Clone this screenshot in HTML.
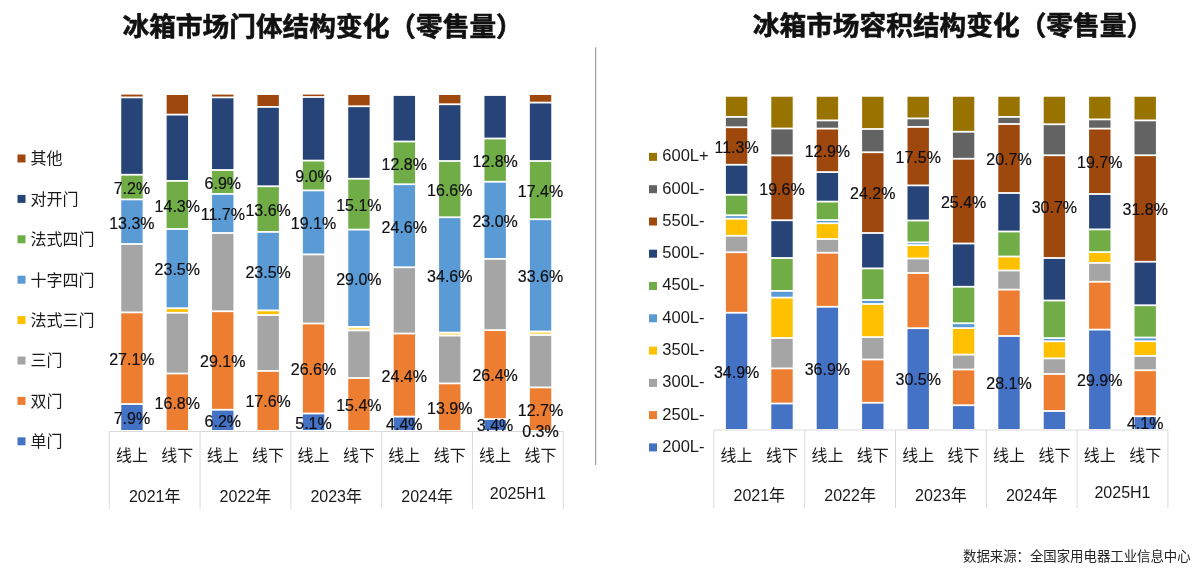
<!DOCTYPE html>
<html lang="zh-CN"><head><meta charset="utf-8"><title>冰箱市场结构变化</title>
<style>
html,body{margin:0;padding:0;background:#fff;}
body{width:1200px;height:572px;overflow:hidden;font-family:"Liberation Sans","Noto Sans CJK SC",sans-serif;}
svg{display:block;}
.lbl text{font-size:16px;fill:#101014;text-anchor:middle;stroke:#101014;stroke-width:0.2;}
.cat text{font-size:16px;fill:#1a1a1a;text-anchor:middle;}
.leg text{fill:#1a1a1a;}
.axis path{stroke:#d9d9d9;stroke-width:1;fill:none;}
.title{font-size:26.7px;font-weight:bold;fill:#111;stroke:#111;stroke-width:0.6;}
.src{font-size:13.4px;fill:#222;}
</style></head><body>
<svg width="1200" height="572" viewBox="0 0 1200 572" font-family="'Liberation Sans','Noto Sans CJK SC',sans-serif">
<rect width="1200" height="572" fill="#fff"/>
<text class="title" x="122.5" y="36.2">冰箱市场门体结构变化（零售量）</text>
<text class="title" x="752.8" y="34.7">冰箱市场容积结构变化（零售量）</text>
<path d="M595.7 47.3V465" stroke="#858d94" stroke-width="1" fill="none"/>
<g class="axis">
<path d="M109.25 431.5H563.25" />
<path d="M109.25 431.5V509"/>
<path d="M200.05 431.5V509"/>
<path d="M290.85 431.5V509"/>
<path d="M381.65 431.5V509"/>
<path d="M472.45 431.5V509"/>
<path d="M563.25 431.5V509"/>
<path d="M713.90 430H1167.90" />
<path d="M713.90 430V508"/>
<path d="M804.70 430V508"/>
<path d="M895.50 430V508"/>
<path d="M986.30 430V508"/>
<path d="M1077.10 430V508"/>
<path d="M1167.90 430V508"/>
</g>
<g class="bars">
<rect x="121.25" y="94.60" width="21.4" height="1.90" fill="#9E480E"/>
<rect x="121.25" y="98.30" width="21.4" height="75.55" fill="#264478"/>
<rect x="121.25" y="175.65" width="21.4" height="22.85" fill="#70AD47"/>
<rect x="121.25" y="200.30" width="21.4" height="42.80" fill="#5B9BD5"/>
<rect x="121.25" y="244.90" width="21.4" height="66.60" fill="#A5A5A5"/>
<rect x="121.25" y="313.30" width="21.4" height="89.80" fill="#ED7D31"/>
<rect x="121.25" y="404.90" width="21.4" height="25.10" fill="#4472C4"/>
<rect x="166.65" y="95.00" width="21.4" height="18.70" fill="#9E480E"/>
<rect x="166.65" y="115.50" width="21.4" height="64.50" fill="#264478"/>
<rect x="166.65" y="181.80" width="21.4" height="46.30" fill="#70AD47"/>
<rect x="166.65" y="229.90" width="21.4" height="77.45" fill="#5B9BD5"/>
<rect x="166.65" y="309.15" width="21.4" height="2.70" fill="#FFC000"/>
<rect x="166.65" y="313.65" width="21.4" height="58.95" fill="#A5A5A5"/>
<rect x="166.65" y="374.40" width="21.4" height="55.60" fill="#ED7D31"/>
<rect x="212.05" y="94.60" width="21.4" height="1.90" fill="#9E480E"/>
<rect x="212.05" y="98.30" width="21.4" height="70.80" fill="#264478"/>
<rect x="212.05" y="170.90" width="21.4" height="22.10" fill="#70AD47"/>
<rect x="212.05" y="194.80" width="21.4" height="37.30" fill="#5B9BD5"/>
<rect x="212.05" y="233.90" width="21.4" height="76.45" fill="#A5A5A5"/>
<rect x="212.05" y="312.15" width="21.4" height="96.70" fill="#ED7D31"/>
<rect x="212.05" y="410.65" width="21.4" height="19.35" fill="#4472C4"/>
<rect x="257.45" y="95.00" width="21.4" height="11.00" fill="#9E480E"/>
<rect x="257.45" y="107.80" width="21.4" height="77.55" fill="#264478"/>
<rect x="257.45" y="187.15" width="21.4" height="43.85" fill="#70AD47"/>
<rect x="257.45" y="232.80" width="21.4" height="76.70" fill="#5B9BD5"/>
<rect x="257.45" y="311.30" width="21.4" height="2.80" fill="#FFC000"/>
<rect x="257.45" y="315.90" width="21.4" height="54.10" fill="#A5A5A5"/>
<rect x="257.45" y="371.80" width="21.4" height="58.20" fill="#ED7D31"/>
<rect x="302.85" y="94.60" width="21.4" height="1.50" fill="#9E480E"/>
<rect x="302.85" y="97.90" width="21.4" height="61.80" fill="#264478"/>
<rect x="302.85" y="161.50" width="21.4" height="28.00" fill="#70AD47"/>
<rect x="302.85" y="191.30" width="21.4" height="62.20" fill="#5B9BD5"/>
<rect x="302.85" y="255.30" width="21.4" height="67.30" fill="#A5A5A5"/>
<rect x="302.85" y="324.40" width="21.4" height="88.20" fill="#ED7D31"/>
<rect x="302.85" y="414.40" width="21.4" height="15.60" fill="#4472C4"/>
<rect x="348.25" y="95.00" width="21.4" height="10.35" fill="#9E480E"/>
<rect x="348.25" y="107.15" width="21.4" height="70.70" fill="#264478"/>
<rect x="348.25" y="179.65" width="21.4" height="49.05" fill="#70AD47"/>
<rect x="348.25" y="230.50" width="21.4" height="95.50" fill="#5B9BD5"/>
<rect x="348.25" y="327.80" width="21.4" height="1.70" fill="#FFC000" fill-opacity="0.55"/>
<rect x="348.25" y="331.30" width="21.4" height="45.80" fill="#A5A5A5"/>
<rect x="348.25" y="378.90" width="21.4" height="51.10" fill="#ED7D31"/>
<rect x="393.65" y="95.90" width="21.4" height="44.70" fill="#264478"/>
<rect x="393.65" y="142.40" width="21.4" height="40.95" fill="#70AD47"/>
<rect x="393.65" y="185.15" width="21.4" height="81.20" fill="#5B9BD5"/>
<rect x="393.65" y="268.15" width="21.4" height="64.45" fill="#A5A5A5"/>
<rect x="393.65" y="334.40" width="21.4" height="81.30" fill="#ED7D31"/>
<rect x="393.65" y="417.50" width="21.4" height="12.50" fill="#4472C4"/>
<rect x="439.05" y="95.00" width="21.4" height="8.35" fill="#9E480E"/>
<rect x="439.05" y="105.15" width="21.4" height="54.95" fill="#264478"/>
<rect x="439.05" y="161.90" width="21.4" height="54.45" fill="#70AD47"/>
<rect x="439.05" y="218.15" width="21.4" height="113.55" fill="#5B9BD5"/>
<rect x="439.05" y="333.50" width="21.4" height="1.20" fill="#FFC000" fill-opacity="0.55"/>
<rect x="439.05" y="336.50" width="21.4" height="46.00" fill="#A5A5A5"/>
<rect x="439.05" y="384.30" width="21.4" height="45.70" fill="#ED7D31"/>
<rect x="484.45" y="95.90" width="21.4" height="41.70" fill="#264478"/>
<rect x="484.45" y="139.40" width="21.4" height="41.45" fill="#70AD47"/>
<rect x="484.45" y="182.65" width="21.4" height="75.35" fill="#5B9BD5"/>
<rect x="484.45" y="259.80" width="21.4" height="69.40" fill="#A5A5A5"/>
<rect x="484.45" y="331.00" width="21.4" height="87.20" fill="#ED7D31"/>
<rect x="484.45" y="420.00" width="21.4" height="10.00" fill="#4472C4"/>
<rect x="529.85" y="95.00" width="21.4" height="6.70" fill="#9E480E"/>
<rect x="529.85" y="103.50" width="21.4" height="56.60" fill="#264478"/>
<rect x="529.85" y="161.90" width="21.4" height="56.45" fill="#70AD47"/>
<rect x="529.85" y="220.15" width="21.4" height="110.45" fill="#5B9BD5"/>
<rect x="529.85" y="332.40" width="21.4" height="1.70" fill="#FFC000" fill-opacity="0.55"/>
<rect x="529.85" y="335.90" width="21.4" height="50.60" fill="#A5A5A5"/>
<rect x="529.85" y="388.30" width="21.4" height="41.70" fill="#ED7D31"/>
<rect x="725.90" y="96.75" width="21.4" height="19.25" fill="#997300"/>
<rect x="725.90" y="117.80" width="21.4" height="8.55" fill="#636363"/>
<rect x="725.90" y="128.15" width="21.4" height="35.70" fill="#9E480E"/>
<rect x="725.90" y="165.65" width="21.4" height="28.20" fill="#264478"/>
<rect x="725.90" y="195.65" width="21.4" height="18.70" fill="#70AD47"/>
<rect x="725.90" y="216.15" width="21.4" height="1.70" fill="#5B9BD5"/>
<rect x="725.90" y="219.65" width="21.4" height="15.20" fill="#FFC000"/>
<rect x="725.90" y="236.65" width="21.4" height="14.70" fill="#A5A5A5"/>
<rect x="725.90" y="253.15" width="21.4" height="58.70" fill="#ED7D31"/>
<rect x="725.90" y="313.65" width="21.4" height="115.35" fill="#4472C4"/>
<rect x="771.30" y="96.75" width="21.4" height="30.85" fill="#997300"/>
<rect x="771.30" y="129.40" width="21.4" height="25.10" fill="#636363"/>
<rect x="771.30" y="156.30" width="21.4" height="63.05" fill="#9E480E"/>
<rect x="771.30" y="221.15" width="21.4" height="35.95" fill="#264478"/>
<rect x="771.30" y="258.90" width="21.4" height="31.10" fill="#70AD47"/>
<rect x="771.30" y="291.80" width="21.4" height="4.90" fill="#5B9BD5"/>
<rect x="771.30" y="298.50" width="21.4" height="38.60" fill="#FFC000"/>
<rect x="771.30" y="338.90" width="21.4" height="28.60" fill="#A5A5A5"/>
<rect x="771.30" y="369.30" width="21.4" height="33.30" fill="#ED7D31"/>
<rect x="771.30" y="404.40" width="21.4" height="24.60" fill="#4472C4"/>
<rect x="816.70" y="96.75" width="21.4" height="22.75" fill="#997300"/>
<rect x="816.70" y="121.30" width="21.4" height="6.40" fill="#636363"/>
<rect x="816.70" y="129.50" width="21.4" height="41.70" fill="#9E480E"/>
<rect x="816.70" y="173.00" width="21.4" height="27.70" fill="#264478"/>
<rect x="816.70" y="202.50" width="21.4" height="16.70" fill="#70AD47"/>
<rect x="816.70" y="221.00" width="21.4" height="1.35" fill="#5B9BD5"/>
<rect x="816.70" y="224.15" width="21.4" height="13.95" fill="#FFC000"/>
<rect x="816.70" y="239.90" width="21.4" height="11.95" fill="#A5A5A5"/>
<rect x="816.70" y="253.65" width="21.4" height="52.20" fill="#ED7D31"/>
<rect x="816.70" y="307.65" width="21.4" height="121.35" fill="#4472C4"/>
<rect x="862.10" y="96.75" width="21.4" height="31.35" fill="#997300"/>
<rect x="862.10" y="129.90" width="21.4" height="21.45" fill="#636363"/>
<rect x="862.10" y="153.15" width="21.4" height="78.95" fill="#9E480E"/>
<rect x="862.10" y="233.90" width="21.4" height="33.60" fill="#264478"/>
<rect x="862.10" y="269.30" width="21.4" height="29.80" fill="#70AD47"/>
<rect x="862.10" y="300.90" width="21.4" height="2.20" fill="#5B9BD5"/>
<rect x="862.10" y="304.90" width="21.4" height="31.30" fill="#FFC000"/>
<rect x="862.10" y="338.00" width="21.4" height="20.60" fill="#A5A5A5"/>
<rect x="862.10" y="360.40" width="21.4" height="41.45" fill="#ED7D31"/>
<rect x="862.10" y="403.65" width="21.4" height="25.35" fill="#4472C4"/>
<rect x="907.50" y="96.75" width="21.4" height="20.75" fill="#997300"/>
<rect x="907.50" y="119.30" width="21.4" height="6.70" fill="#636363"/>
<rect x="907.50" y="127.80" width="21.4" height="56.70" fill="#9E480E"/>
<rect x="907.50" y="186.30" width="21.4" height="33.30" fill="#264478"/>
<rect x="907.50" y="221.40" width="21.4" height="20.10" fill="#70AD47"/>
<rect x="907.50" y="243.30" width="21.4" height="0.90" fill="#5B9BD5"/>
<rect x="907.50" y="246.00" width="21.4" height="11.60" fill="#FFC000"/>
<rect x="907.50" y="259.40" width="21.4" height="12.70" fill="#A5A5A5"/>
<rect x="907.50" y="273.90" width="21.4" height="53.40" fill="#ED7D31"/>
<rect x="907.50" y="329.10" width="21.4" height="99.90" fill="#4472C4"/>
<rect x="952.90" y="96.75" width="21.4" height="34.10" fill="#997300"/>
<rect x="952.90" y="132.65" width="21.4" height="25.20" fill="#636363"/>
<rect x="952.90" y="159.65" width="21.4" height="82.95" fill="#9E480E"/>
<rect x="952.90" y="244.40" width="21.4" height="41.45" fill="#264478"/>
<rect x="952.90" y="287.65" width="21.4" height="34.70" fill="#70AD47"/>
<rect x="952.90" y="324.15" width="21.4" height="3.05" fill="#5B9BD5"/>
<rect x="952.90" y="329.00" width="21.4" height="24.70" fill="#FFC000"/>
<rect x="952.90" y="355.50" width="21.4" height="13.10" fill="#A5A5A5"/>
<rect x="952.90" y="370.40" width="21.4" height="33.95" fill="#ED7D31"/>
<rect x="952.90" y="406.15" width="21.4" height="22.85" fill="#4472C4"/>
<rect x="998.30" y="96.75" width="21.4" height="19.25" fill="#997300"/>
<rect x="998.30" y="117.80" width="21.4" height="5.30" fill="#636363"/>
<rect x="998.30" y="124.90" width="21.4" height="67.20" fill="#9E480E"/>
<rect x="998.30" y="193.90" width="21.4" height="36.70" fill="#264478"/>
<rect x="998.30" y="232.40" width="21.4" height="23.20" fill="#70AD47"/>
<rect x="998.30" y="257.40" width="21.4" height="12.20" fill="#FFC000"/>
<rect x="998.30" y="271.40" width="21.4" height="17.30" fill="#A5A5A5"/>
<rect x="998.30" y="290.50" width="21.4" height="44.60" fill="#ED7D31"/>
<rect x="998.30" y="336.90" width="21.4" height="92.10" fill="#4472C4"/>
<rect x="1043.70" y="96.75" width="21.4" height="26.60" fill="#997300"/>
<rect x="1043.70" y="125.15" width="21.4" height="29.20" fill="#636363"/>
<rect x="1043.70" y="156.15" width="21.4" height="100.95" fill="#9E480E"/>
<rect x="1043.70" y="258.90" width="21.4" height="40.70" fill="#264478"/>
<rect x="1043.70" y="301.40" width="21.4" height="35.80" fill="#70AD47"/>
<rect x="1043.70" y="339.00" width="21.4" height="1.40" fill="#5B9BD5"/>
<rect x="1043.70" y="342.20" width="21.4" height="15.30" fill="#FFC000"/>
<rect x="1043.70" y="359.30" width="21.4" height="13.80" fill="#A5A5A5"/>
<rect x="1043.70" y="374.90" width="21.4" height="35.20" fill="#ED7D31"/>
<rect x="1043.70" y="411.90" width="21.4" height="17.10" fill="#4472C4"/>
<rect x="1089.10" y="96.75" width="21.4" height="21.75" fill="#997300"/>
<rect x="1089.10" y="120.30" width="21.4" height="7.40" fill="#636363"/>
<rect x="1089.10" y="129.50" width="21.4" height="63.60" fill="#9E480E"/>
<rect x="1089.10" y="194.90" width="21.4" height="33.60" fill="#264478"/>
<rect x="1089.10" y="230.30" width="21.4" height="20.90" fill="#70AD47"/>
<rect x="1089.10" y="253.00" width="21.4" height="9.00" fill="#FFC000"/>
<rect x="1089.10" y="263.80" width="21.4" height="17.05" fill="#A5A5A5"/>
<rect x="1089.10" y="282.65" width="21.4" height="46.05" fill="#ED7D31"/>
<rect x="1089.10" y="330.50" width="21.4" height="98.50" fill="#4472C4"/>
<rect x="1134.50" y="96.75" width="21.4" height="22.75" fill="#997300"/>
<rect x="1134.50" y="121.30" width="21.4" height="33.05" fill="#636363"/>
<rect x="1134.50" y="156.15" width="21.4" height="104.70" fill="#9E480E"/>
<rect x="1134.50" y="262.65" width="21.4" height="41.70" fill="#264478"/>
<rect x="1134.50" y="306.15" width="21.4" height="30.45" fill="#70AD47"/>
<rect x="1134.50" y="338.40" width="21.4" height="1.95" fill="#5B9BD5"/>
<rect x="1134.50" y="342.15" width="21.4" height="12.85" fill="#FFC000"/>
<rect x="1134.50" y="356.80" width="21.4" height="12.55" fill="#A5A5A5"/>
<rect x="1134.50" y="371.15" width="21.4" height="44.20" fill="#ED7D31"/>
<rect x="1134.50" y="417.15" width="21.4" height="11.85" fill="#4472C4"/>
</g>
<g class="leg" stroke="none">
<rect x="17.5" y="154.5" width="8" height="8" fill="#9E480E"/>
<rect x="17.5" y="194.9" width="8" height="8" fill="#264478"/>
<rect x="17.5" y="235.3" width="8" height="8" fill="#70AD47"/>
<rect x="17.5" y="275.7" width="8" height="8" fill="#5B9BD5"/>
<rect x="17.5" y="316.1" width="8" height="8" fill="#FFC000"/>
<rect x="17.5" y="356.5" width="8" height="8" fill="#A5A5A5"/>
<rect x="17.5" y="396.9" width="8" height="8" fill="#ED7D31"/>
<rect x="17.5" y="437.3" width="8" height="8" fill="#4472C4"/>
<rect x="649" y="152.9" width="8" height="8" fill="#997300"/>
<rect x="649" y="185.2" width="8" height="8" fill="#636363"/>
<rect x="649" y="217.5" width="8" height="8" fill="#9E480E"/>
<rect x="649" y="249.7" width="8" height="8" fill="#264478"/>
<rect x="649" y="282.0" width="8" height="8" fill="#70AD47"/>
<rect x="649" y="314.3" width="8" height="8" fill="#5B9BD5"/>
<rect x="649" y="346.6" width="8" height="8" fill="#FFC000"/>
<rect x="649" y="378.9" width="8" height="8" fill="#A5A5A5"/>
<rect x="649" y="411.1" width="8" height="8" fill="#ED7D31"/>
<rect x="649" y="443.4" width="8" height="8" fill="#4472C4"/>
<text x="30.5" y="164.3" font-size="16">其他</text>
<text x="30.5" y="204.7" font-size="16">对开门</text>
<text x="30.5" y="245.1" font-size="16">法式四门</text>
<text x="30.5" y="285.5" font-size="16">十字四门</text>
<text x="30.5" y="325.9" font-size="16">法式三门</text>
<text x="30.5" y="366.3" font-size="16">三门</text>
<text x="30.5" y="406.7" font-size="16">双门</text>
<text x="30.5" y="447.1" font-size="16">单门</text>
<text x="662.3" y="161.3" font-size="16.5">600L+</text>
<text x="662.3" y="193.6" font-size="16.5">600L-</text>
<text x="662.3" y="225.9" font-size="16.5">550L-</text>
<text x="662.3" y="258.1" font-size="16.5">500L-</text>
<text x="662.3" y="290.4" font-size="16.5">450L-</text>
<text x="662.3" y="322.7" font-size="16.5">400L-</text>
<text x="662.3" y="355.0" font-size="16.5">350L-</text>
<text x="662.3" y="387.3" font-size="16.5">300L-</text>
<text x="662.3" y="419.5" font-size="16.5">250L-</text>
<text x="662.3" y="451.8" font-size="16.5">200L-</text>
</g>
<g class="cat">
<text x="131.9" y="461.3">线上</text>
<text x="177.3" y="461.3">线下</text>
<text x="222.8" y="461.3">线上</text>
<text x="268.1" y="461.3">线下</text>
<text x="313.5" y="461.3">线上</text>
<text x="358.9" y="461.3">线下</text>
<text x="404.3" y="461.3">线上</text>
<text x="449.8" y="461.3">线下</text>
<text x="495.1" y="461.3">线上</text>
<text x="540.5" y="461.3">线下</text>
<text x="154.7" y="501.6" font-size="16.8">2021年</text>
<text x="245.4" y="501.6" font-size="16.8">2022年</text>
<text x="336.2" y="501.6" font-size="16.8">2023年</text>
<text x="427.1" y="501.6" font-size="16.8">2024年</text>
<text x="517.8" y="498.90000000000003" font-size="16.8">2025H1</text>
<text x="736.6" y="460.8">线上</text>
<text x="782.0" y="460.8">线下</text>
<text x="827.4" y="460.8">线上</text>
<text x="872.8" y="460.8">线下</text>
<text x="918.2" y="460.8">线上</text>
<text x="963.6" y="460.8">线下</text>
<text x="1009.0" y="460.8">线上</text>
<text x="1054.4" y="460.8">线下</text>
<text x="1099.8" y="460.8">线上</text>
<text x="1145.2" y="460.8">线下</text>
<text x="759.3" y="501" font-size="16.8">2021年</text>
<text x="850.1" y="501" font-size="16.8">2022年</text>
<text x="940.9" y="501" font-size="16.8">2023年</text>
<text x="1031.7" y="501" font-size="16.8">2024年</text>
<text x="1122.5" y="498.3" font-size="16.8">2025H1</text>
</g>
<g class="lbl">
<text x="131.9" y="193.9">7.2%</text>
<text x="131.9" y="228.5">13.3%</text>
<text x="131.9" y="365.0">27.1%</text>
<text x="131.9" y="423.8">7.9%</text>
<text x="177.3" y="211.8">14.3%</text>
<text x="177.3" y="275.4">23.5%</text>
<text x="177.3" y="408.6">16.8%</text>
<text x="222.8" y="188.8">6.9%</text>
<text x="222.8" y="220.2">11.7%</text>
<text x="222.8" y="367.3">29.1%</text>
<text x="222.8" y="426.7">6.2%</text>
<text x="268.1" y="215.9">13.6%</text>
<text x="268.1" y="277.9">23.5%</text>
<text x="268.1" y="407.2">17.6%</text>
<text x="313.5" y="182.3">9.0%</text>
<text x="313.5" y="229.2">19.1%</text>
<text x="313.5" y="375.3">26.6%</text>
<text x="313.5" y="428.6">5.1%</text>
<text x="358.9" y="211.0">15.1%</text>
<text x="358.9" y="285.1">29.0%</text>
<text x="358.9" y="410.8">15.4%</text>
<text x="404.3" y="169.7">12.8%</text>
<text x="404.3" y="232.6">24.6%</text>
<text x="404.3" y="381.9">24.4%</text>
<text x="404.3" y="430.1">4.4%</text>
<text x="449.8" y="195.9">16.6%</text>
<text x="449.8" y="281.7">34.6%</text>
<text x="449.8" y="413.5">13.9%</text>
<text x="495.1" y="166.9">12.8%</text>
<text x="495.1" y="227.1">23.0%</text>
<text x="495.1" y="381.4">26.4%</text>
<text x="495.1" y="431.4">3.4%</text>
<text x="540.5" y="196.9">17.4%</text>
<text x="540.5" y="282.2">33.6%</text>
<text x="540.5" y="415.5">12.7%</text>
<text x="540.5" y="436.8">0.3%</text>
<text x="736.6" y="152.8">11.3%</text>
<text x="736.6" y="377.7">34.9%</text>
<text x="782.0" y="194.6">19.6%</text>
<text x="827.4" y="157.2">12.9%</text>
<text x="827.4" y="374.7">36.9%</text>
<text x="872.8" y="199.4">24.2%</text>
<text x="918.2" y="163.0">17.5%</text>
<text x="918.2" y="385.4">30.5%</text>
<text x="963.6" y="207.9">25.4%</text>
<text x="1009.0" y="165.3">20.7%</text>
<text x="1009.0" y="389.3">28.1%</text>
<text x="1054.4" y="213.4">30.7%</text>
<text x="1099.8" y="168.1">19.7%</text>
<text x="1099.8" y="386.1">29.9%</text>
<text x="1145.2" y="215.3">31.8%</text>
<text x="1145.2" y="429.4">4.1%</text>
</g>
<text class="src" x="963" y="560.5">数据来源：全国家用电器工业信息中心</text>
</svg>
</body></html>
